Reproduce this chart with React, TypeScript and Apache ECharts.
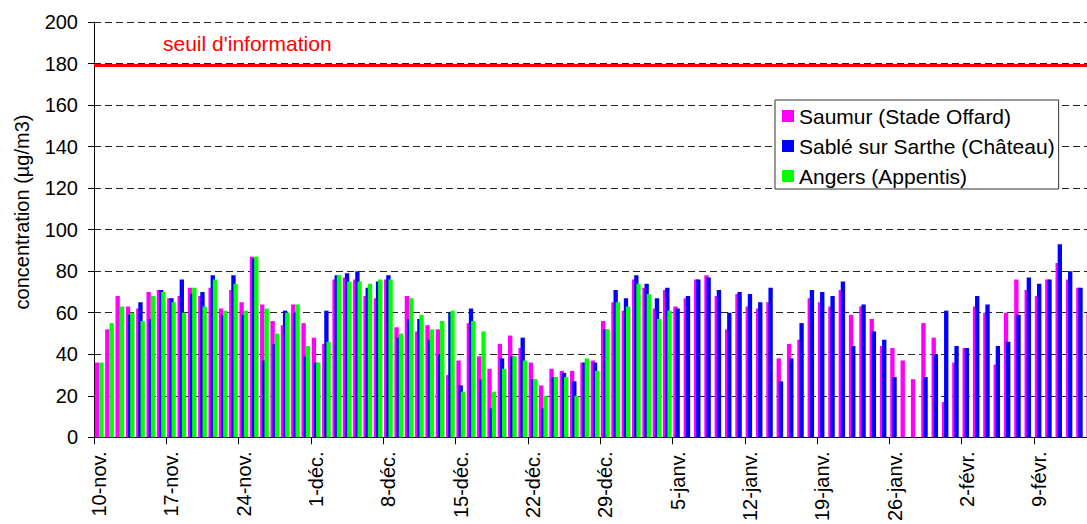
import React, { useEffect, useRef } from 'react';
import * as echarts from 'echarts';

const MONTH_SPANS: [string, number, number][] = [
  ['nov.', 10, 30],
  ['déc.', 1, 31],
  ['janv.', 1, 31],
  ['févr.', 1, 14],
];
const CATEGORIES: string[] = [];
for (const [m, a, b] of MONTH_SPANS) {
  for (let d = a; d <= b; d++) CATEGORIES.push(`${d}-${m}`);
}

const SERIES_NAMES = ['Saumur (Stade Offard)', 'Sablé sur Sarthe (Château)', 'Angers (Appentis)'];
const SERIES_COLORS = ['#FF00FF', '#0000FF', '#00FF00'];

const SAUMUR: (number | null)[] = [
  36, 52, 68, 63, 62, 70, 71, 67, 68, 72, 68, 72, 62, 71, 65, 87, 64, 56, 54, 64, 55,
  48, 45, 76, 77, 76, 68, 67, 76, 53, 68, 51, 54, 52, 30, 37, 55, 39, 33, 45, 49, 43,
  36, 25, 33, 32, 32, 36, 37, 56, 65, 61, 76, 72, 62, 71, 63, 67, 76, 78, 68, 52, 69,
  63, 62, 65, 38, 45, 47, 67, 65, 63, 71, 59, 63, 57, 44, 43, 37, 28, 55, 48, 17, 36,
  43, 63, 60, 35, 60, 76, 71, 68, 76, 84, 76, 72, 60,
];

const SABLE: (number | null)[] = [
  null, null, null, 59, 65, 57, 71, 67, 76, 69, 70, 78, 59, 78, 59, 86, 37, 45, 61, 60, 39,
  36, 61, 78, 79, 80, 72, 75, 78, 48, 57, 57, 47, 40, 60, 25, 62, 28, 14, 38, 39, 48,
  28, 14, 29, 31, 27, 36, 36, 52, 71, 67, 78, 74, 67, 72, 62, 68, 76, 77, 71, 60, 70,
  69, 65, 72, 27, 38, 55, 71, 70, 68, 75, 44, 64, 51, 47, 29, null, null, 29, 40, 61, 44,
  43, 68, 64, 44, 46, 59, 77, 74, 76, 93, 80, 72, null,
];

const ANGERS: (number | null)[] = [
  36, 55, 63, 60, 56, 68, 70, 65, 60, 72, 63, 76, 61, 74, 61, 87, 62, 50, 60, 64, 44,
  36, 46, 78, 75, 75, 74, 76, 76, 50, 67, 59, 52, 56, 61, 22, 56, 51, 22, 33, 39, 37,
  28, 20, 29, 29, 20, 38, 32, 52, 65, 63, 74, 69, 57, 61,
];

const THRESHOLD = 179;
const THRESHOLD_LABEL = "seuil d'information";
const Y_TITLE = 'concentration (µg/m3)';

const FONT = "'Liberation Sans', Arial, sans-serif";

export default function App() {
  const ref = useRef<HTMLDivElement>(null);

  useEffect(() => {
    document.body.style.margin = '0';
    document.body.style.overflow = 'hidden';
    if (!ref.current) return;
    const chart = echarts.init(ref.current, undefined, { renderer: 'svg' });
    const seriesData = [SAUMUR, SABLE, ANGERS];
    const option: any = {
      animation: false,
      backgroundColor: '#ffffff',
      textStyle: { fontFamily: FONT },
      grid: { left: 94, right: 0, top: 22, bottom: 86, containLabel: false },
      legend: {
        orient: 'vertical',
        left: 775,
        top: 100,
        padding: [5, 4, 2, 7],
        itemWidth: 12,
        itemHeight: 12,
        itemGap: 8,
        icon: 'rect',
        backgroundColor: '#ffffff',
        borderColor: '#333333',
        borderWidth: 1,
        textStyle: { fontFamily: FONT, fontSize: 21, lineHeight: 22, color: '#000' },
        data: SERIES_NAMES,
      },
      xAxis: {
        type: 'category',
        data: CATEGORIES,
        boundaryGap: true,
        axisLine: { show: true, lineStyle: { color: '#000', width: 1 } },
        axisTick: { show: true, interval: 6, length: 7, lineStyle: { color: '#000' } },
        axisLabel: {
          interval: 6,
          rotate: 90,
          margin: 14,
          fontFamily: FONT,
          fontSize: 20,
          color: '#000',
        },
        splitLine: { show: false },
      },
      yAxis: {
        type: 'value',
        min: 0,
        max: 200,
        interval: 20,
        axisLine: { show: true, lineStyle: { color: '#000', width: 1 } },
        axisTick: { show: true, length: 6, lineStyle: { color: '#000' } },
        axisLabel: { margin: 16, fontFamily: FONT, fontSize: 20, color: '#000' },
        splitLine: { show: true, lineStyle: { color: '#222', width: 1, type: [7, 4] } },
      },
      graphic: [
        {
          type: 'text',
          x: 22,
          y: 212,
          rotation: Math.PI / 2,
          style: {
            text: Y_TITLE,
            font: `20px ${FONT}`,
            fill: '#000',
            textAlign: 'center',
            textVerticalAlign: 'middle',
          },
        },
        {
          type: 'text',
          x: 163,
          y: 43,
          z: 10,
          style: {
            text: THRESHOLD_LABEL,
            font: `21px ${FONT}`,
            fill: '#FF0000',
            textAlign: 'left',
            textVerticalAlign: 'middle',
          },
        },
      ],
      series: SERIES_NAMES.map((name, i) => ({
        name,
        type: 'bar',
        data: seriesData[i],
        barCategoryGap: '16%',
        barGap: '-50%',
        itemStyle: { color: SERIES_COLORS[i] },
        ...(i === 0
          ? {
              markLine: {
                silent: true,
                symbol: 'none',
                label: { show: false },
                lineStyle: { color: '#FF0000', width: 3, type: 'solid' },
                data: [{ yAxis: THRESHOLD }],
              },
            }
          : {}),
      })),
    };
    chart.setOption(option);
    return () => {
      chart.dispose();
    };
  }, []);

  return <div ref={ref} style={{ width: 1096, height: 524 }} />;
}
